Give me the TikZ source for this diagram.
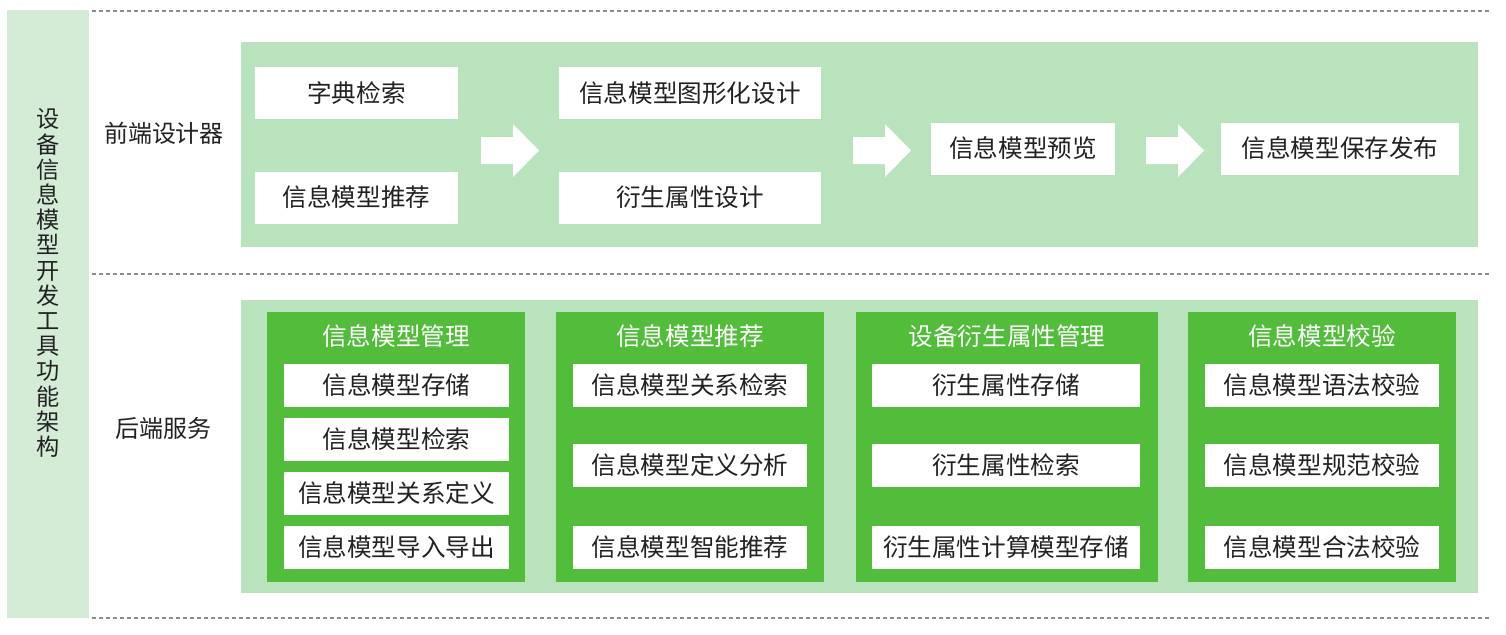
\documentclass[tikz,border=0pt]{standalone}
\usepackage{fontspec}
\setmainfont{Noto Sans CJK SC}
\usetikzlibrary{positioning}
\definecolor{bandg}{RGB}{212,235,214}
\definecolor{panelg}{RGB}{184,227,188}
\definecolor{darkg}{RGB}{82,188,59}
\definecolor{dashg}{RGB}{140,140,140}
\definecolor{txt}{RGB}{34,34,34}
\tikzset{
  fbox/.style={fill=white,text=txt,minimum height=26pt,inner sep=0pt,font=\fontsize{12.3}{14}\selectfont},
  bbox/.style={fill=white,text=txt,minimum height=21.5pt,inner sep=0pt,font=\fontsize{12.3}{14}\selectfont},
  gbox/.style={fill=darkg,minimum height=135pt,inner sep=0pt},
  gtitle/.style={text=white,font=\fontsize{12.3}{14}\selectfont},
  lbl/.style={text=txt,font=\fontsize{12}{14}\selectfont}
}
\begin{document}
\begin{tikzpicture}[x=0.5pt,y=-0.5pt]
\useasboundingbox (0,0) rectangle (1506,634);
\fill[bandg] (7,10) rectangle (89,618);
\node[text=txt,align=center,font=\fontsize{11.6}{12.6}\selectfont] (arch) at (48,283)
  {设\\备\\信\\息\\模\\型\\开\\发\\工\\具\\功\\能\\架\\构};
\foreach \y in {11,274,618}
  \draw[dashg,line width=0.6pt,dash pattern=on 2pt off 1.5pt] (92,\y) -- (1490,\y);
\node[lbl] (front) at (164,133) {前端设计器};
\node[lbl] (back) at (163,428) {后端服务};
% front end
\fill[panelg] (241,42) rectangle (1478,247);
\node[fbox,minimum width=101.5pt] (dict) at (356.5,93) {字典检索};
\node[fbox,minimum width=101.5pt] (recf) at (356.5,197.5) {信息模型推荐};
\node[fbox,minimum width=131pt] (graph) at (690,93) {信息模型图形化设计};
\node[fbox,minimum width=131pt] (deriv) at (690,197.5) {衍生属性设计};
\node[fbox,minimum width=92pt] (prev) at (1023,148.5) {信息模型预览};
\node[fbox,minimum width=119pt] (pub) at (1340,148.5) {信息模型保存发布};
\foreach \x in {481,853,1146}
  \fill[white] (\x,137) -- ++(32,0) -- ++(0,-13) -- ++(26,26.5) -- ++(-26,26.5) -- ++(0,-13) -- ++(-32,0) -- cycle;
% back end
\fill[panelg] (241,300) rectangle (1478,593);
\node[gbox,minimum width=129pt] (mgmt) at (396,447) {};
\node[gbox,minimum width=134pt] (rec) at (690,447) {};
\node[gbox,minimum width=151pt] (attr) at (1007,447) {};
\node[gbox,minimum width=134pt] (chk) at (1322,447) {};
\node[gtitle] (mgmtt) at (396,336) {信息模型管理};
\node[gtitle] (rect) at (690,336) {信息模型推荐};
\node[gtitle] (attrt) at (1007,336) {设备衍生属性管理};
\node[gtitle] (chkt) at (1322,336) {信息模型校验};
\node[bbox,minimum width=112.5pt] (m1) at (396.5,385.5) {信息模型存储};
\node[bbox,minimum width=112.5pt] (m2) at (396.5,439.5) {信息模型检索};
\node[bbox,minimum width=112.5pt] (m3) at (396.5,493) {信息模型关系定义};
\node[bbox,minimum width=112.5pt] (m4) at (396.5,547) {信息模型导入导出};
\node[bbox,minimum width=117pt] (r1) at (690,385.5) {信息模型关系检索};
\node[bbox,minimum width=117pt] (r2) at (690,465.5) {信息模型定义分析};
\node[bbox,minimum width=117pt] (r3) at (690,547) {信息模型智能推荐};
\node[bbox,minimum width=134pt] (d1) at (1006,385.5) {衍生属性存储};
\node[bbox,minimum width=134pt] (d2) at (1006,465.5) {衍生属性检索};
\node[bbox,minimum width=134pt] (d3) at (1006,547) {衍生属性计算模型存储};
\node[bbox,minimum width=117pt] (c1) at (1322,385.5) {信息模型语法校验};
\node[bbox,minimum width=117pt] (c2) at (1322,465.5) {信息模型规范校验};
\node[bbox,minimum width=117pt] (c3) at (1322,547) {信息模型合法校验};
\end{tikzpicture}
\end{document}
